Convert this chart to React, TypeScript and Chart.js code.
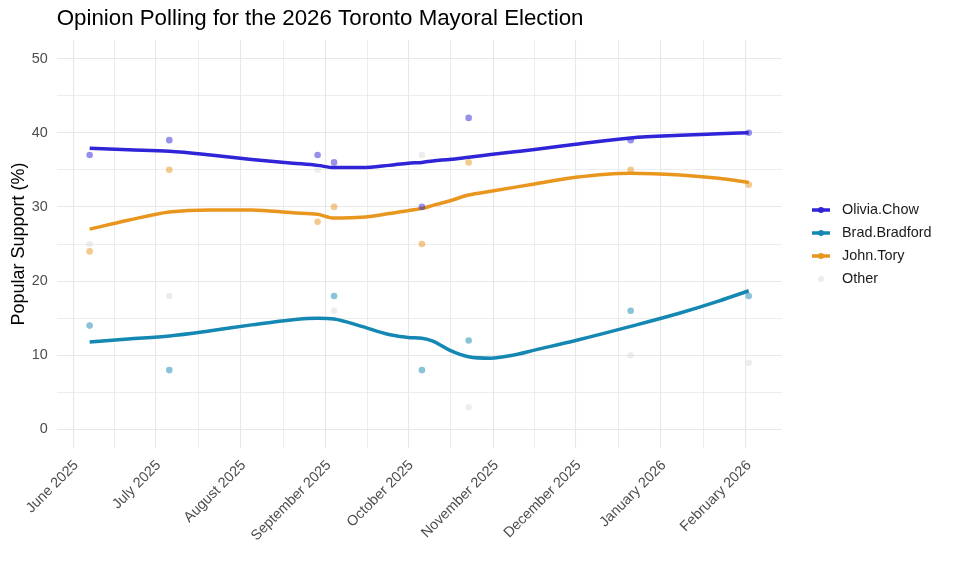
import { useEffect, useRef } from "react";
import { Chart, registerables } from "chart.js";

Chart.register(...registerables);

const FONT = '"Liberation Sans", Arial, Helvetica, sans-serif';

// x values are days counted from 1 June 2025
const monthDays = [0, 30, 61, 92, 122, 153, 183, 214, 245];
const monthLabels = [
  "June 2025",
  "July 2025",
  "August 2025",
  "September 2025",
  "October 2025",
  "November 2025",
  "December 2025",
  "January 2026",
  "February 2026",
];
const minorDays = [15, 45.5, 76.5, 107, 137.5, 168, 198.5, 229.5];
const yTicks = [0, 5, 10, 15, 20, 25, 30, 35, 40, 45, 50];

// individual polls
const pollDays = [6, 35, 89, 95, 127, 144, 203, 246];
const chowPolls = [37, 39, 37, 36, 30, 42, 39, 40];
const bradfordPolls = [14, 8, null, 18, 8, 12, 16, 18];
const toryPolls = [24, 35, 28, 30, 25, 36, 35, 33];
const otherPolls = [25, 18, 35, 16, 37, 3, 10, 9];

// smoothed trend
const trendDays = [6, 20, 35, 50, 65, 80, 89, 95, 105, 115, 122, 127, 131, 137, 144, 152, 160, 168, 183, 203, 221, 235, 246];
const chowTrend = [37.9, 37.7, 37.5, 37.0, 36.4, 35.9, 35.6, 35.3, 35.3, 35.6, 35.9, 36.0, 36.2, 36.4, 36.7, 37.05, 37.4, 37.75, 38.45, 39.3, 39.65, 39.85, 40.0];
const bradfordTrend = [11.8, 12.2, 12.6, 13.3, 14.1, 14.8, 15.0, 14.9, 13.9, 12.8, 12.4, 12.3, 11.9, 10.7, 9.8, 9.6, 10.0, 10.7, 12.0, 13.9, 15.7, 17.3, 18.7];
const toryTrend = [27.0, 28.2, 29.3, 29.6, 29.6, 29.2, 29.0, 28.5, 28.6, 29.1, 29.5, 29.8, 30.2, 30.8, 31.6, 32.1, 32.6, 33.1, 34.0, 34.55, 34.3, 33.85, 33.3];

const seriesNames = ["Olivia.Chow", "Brad.Bradford", "John.Tory", "Other"];
const lineColours = ["#3024d8", "#1487b2", "#e8961e", "rgba(215,215,215,0.45)"];
const pointColours = ["rgba(48,36,216,0.5)", "rgba(20,135,178,0.5)", "rgba(232,150,30,0.5)", "rgba(215,215,215,0.45)"];

const title = "Opinion Polling for the 2026 Toronto Mayoral Election";
const yTitle = "Popular Support (%)";

const toPoints = (xs: number[], ys: (number | null)[]) =>
  xs.map((x, i) => ({ x, y: ys[i] })).filter((p) => p.y !== null);

const decorations = {
  id: "decorations",
  afterDraw(chart: any) {
    const ctx = chart.ctx as CanvasRenderingContext2D;
    const area = chart.chartArea;
    ctx.save();
    ctx.fillStyle = "#000";
    ctx.font = `22.3px ${FONT}`;
    ctx.textAlign = "left";
    ctx.textBaseline = "alphabetic";
    ctx.fillText(title, area.left, 25);

    ctx.save();
    ctx.translate(24, (area.top + area.bottom) / 2);
    ctx.rotate(-Math.PI / 2);
    ctx.font = `18px ${FONT}`;
    ctx.textAlign = "center";
    ctx.fillText(yTitle, 0, 0);
    ctx.restore();

    // legend
    const rowY = [210, 233, 256, 279];
    seriesNames.forEach((name, i) => {
      const y = rowY[i];
      if (i < 3) {
        ctx.strokeStyle = lineColours[i];
        ctx.lineWidth = 3.5;
        ctx.beginPath();
        ctx.moveTo(812, y);
        ctx.lineTo(830, y);
        ctx.stroke();
        ctx.fillStyle = lineColours[i];
      } else {
        ctx.fillStyle = pointColours[i];
      }
      ctx.beginPath();
      ctx.arc(821, y, 3, 0, Math.PI * 2);
      ctx.fill();
      ctx.fillStyle = "#1a1a1a";
      ctx.font = `14.4px ${FONT}`;
      ctx.textAlign = "left";
      ctx.textBaseline = "middle";
      ctx.fillText(name, 842, y);
    });
    ctx.restore();
  },
};

const pollSeries = [chowPolls, bradfordPolls, toryPolls, otherPolls];
const trendSeries = [chowTrend, bradfordTrend, toryTrend];

export default function App() {
  const ref = useRef<HTMLCanvasElement | null>(null);

  useEffect(() => {
    document.body.style.margin = "0";
    if (!ref.current) return;

    const datasets: any[] = [];
    trendSeries.forEach((trend, i) => {
      datasets.push({
        type: "line",
        label: seriesNames[i] + " trend",
        data: toPoints(trendDays, trend),
        borderColor: lineColours[i],
        borderWidth: 3.5,
        pointRadius: 0,
        cubicInterpolationMode: "monotone",
        fill: false,
        order: 2,
      });
    });
    pollSeries.forEach((polls, i) => {
      datasets.push({
        type: "scatter",
        label: seriesNames[i],
        data: toPoints(pollDays, polls),
        backgroundColor: pointColours[i],
        borderWidth: 0,
        pointRadius: 3.3,
        order: i === 3 ? 3 : 1,
      });
    });

    const chart = new Chart(ref.current, {
      type: "scatter",
      data: { datasets },
      plugins: [decorations],
      options: {
        responsive: false,
        animation: false,
        layout: { padding: { left: 0, right: 178.3, top: 40, bottom: 0 } },
        plugins: {
          legend: { display: false },
          title: { display: false },
          tooltip: { enabled: false },
        },
        scales: {
          x: {
            type: "linear",
            min: -6,
            max: 258,
            afterBuildTicks: (scale: any) => {
              scale.ticks = [...monthDays, ...minorDays]
                .sort((a, b) => a - b)
                .map((value) => ({ value }));
            },
            afterFit: (scale: any) => {
              scale.height = 128;
            },
            border: { display: false },
            grid: {
              drawTicks: false,
              color: "#e8e8e8",
              lineWidth: (c: any) => (c.tick && monthDays.includes(c.tick.value) ? 1.1 : 0.8),
            },
            ticks: {
              autoSkip: false,
              minRotation: 45,
              maxRotation: 45,
              padding: 9,
              labelOffset: 3,
              color: "#4d4d4d",
              font: { family: FONT, size: 14.4 },
              callback: (value: any) => {
                const idx = monthDays.indexOf(Number(value));
                return idx >= 0 ? monthLabels[idx] : "";
              },
            },
          },
          y: {
            type: "linear",
            min: -2.5,
            max: 52.5,
            afterBuildTicks: (scale: any) => {
              scale.ticks = yTicks.map((value) => ({ value }));
            },
            afterFit: (scale: any) => {
              scale.width = 56.7;
            },
            border: { display: false },
            grid: {
              drawTicks: false,
              color: "#e8e8e8",
              lineWidth: (c: any) => (c.tick && c.tick.value % 10 === 0 ? 1.1 : 0.8),
            },
            ticks: {
              padding: 9,
              color: "#4d4d4d",
              font: { family: FONT, size: 14.4 },
              callback: (value: any) => (Number(value) % 10 === 0 ? String(value) : ""),
            },
          },
        },
      },
    });

    return () => {
      chart.destroy();
    };
  }, []);

  return <canvas ref={ref} width={960} height={576} style={{ display: "block" }} />;
}
